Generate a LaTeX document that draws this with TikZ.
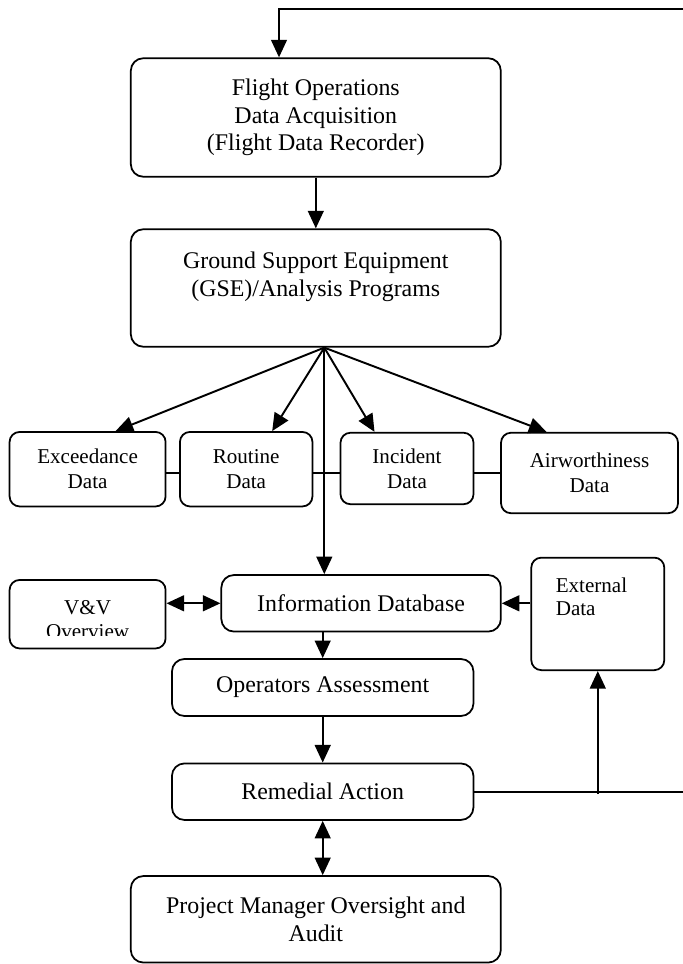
\documentclass[tikz,border=0pt]{standalone}
\usepackage{fontspec}
\setmainfont{Liberation Serif}
\usepackage{tikz}
\usetikzlibrary{arrows.meta}

\begin{document}
\begin{tikzpicture}[
recnode/.style={rectangle, rounded corners=0.25cm, draw, line width=1pt, fill=white, align=center, inner sep=2pt, font=\fontsize{13.6}{15.6}\selectfont},
smallnode/.style={recnode, rounded corners=0.2cm, font=\fontsize{12}{14.2}\selectfont},
textnode/.style={inner sep=0pt, font=\fontsize{12}{13.5}\selectfont},
link/.style={line width=1.1pt, -{Triangle[length=10pt,width=9pt]}},
dlink/.style={line width=1.1pt, {Triangle[length=10pt,width=9pt]}-{Triangle[length=10pt,width=9pt]}},
]
\useasboundingbox (0,0) rectangle (13.66,19.28);
%Nodes
\node[recnode, minimum width=7.40cm, minimum height=2.37cm](flight) at (6.316,16.93){Flight Operations\\Data Acquisition\\(Flight Data Recorder)};
\node[recnode, minimum width=7.40cm, minimum height=2.35cm](gse) at (6.316,13.52){Ground Support Equipment\\(GSE)/Analysis Programs\\\mbox{}};
\node[smallnode, minimum width=3.12cm, minimum height=1.49cm](exc) at (1.752,9.896){Exceedance\\Data};
\node[smallnode, minimum width=2.65cm, minimum height=1.49cm](rout) at (4.924,9.896){Routine\\Data};
\node[smallnode, minimum width=2.66cm, minimum height=1.43cm](inc) at (8.14,9.91){Incident\\Data};
\node[smallnode, minimum width=3.54cm, minimum height=1.61cm](air) at (11.79,9.82){Airworthiness\\Data};
\node[recnode, minimum width=5.59cm, minimum height=1.13cm](info) at (7.222,7.214){Information Database};
\node[smallnode, minimum width=3.12cm, minimum height=1.37cm](vv) at (1.752,6.996){};
\begin{scope}
\clip (vv.north west) rectangle ([yshift=0.27cm]vv.south east);
\node[textnode, align=center](vvtext) at ([yshift=-0.11cm]vv.center){V\&V\\Overview};
\end{scope}
\node[smallnode, minimum width=2.66cm, minimum height=2.25cm](ext) at (11.956,7.002){};
\node[textnode, anchor=north west, align=left](exttext) at ([xshift=0.5cm,yshift=-0.41cm]ext.north west){External\\Data};
\node[recnode, minimum width=6.03cm, minimum height=1.14cm](ops) at (6.454,5.53){Operators Assessment};
\node[recnode, minimum width=6.03cm, minimum height=1.13cm](rem) at (6.454,3.446){Remedial Action};
\node[recnode, minimum width=7.40cm, minimum height=1.73cm](pm) at (6.316,0.894){Project Manager Oversight and\\Audit};

\coordinate (fan) at ([xshift=0.17cm]gse.south);
\coordinate (fin) at ([xshift=-0.736cm]flight.north);
\coordinate (loop) at (13.7,19.1);

%Edges
\draw[line width=1pt] (exc.east |- air.west) -- (rout.west |- air.west);
\draw[line width=1pt] (rout.east |- air.west) -- (inc.west |- air.west);
\draw[line width=1pt] (inc.east |- air.west) -- (air.west);
\draw[link] (flight.south) -- (gse.north);
\draw[link] (fan) -- ([xshift=0.56cm]exc.north);
\draw[link] (fan) -- ([xshift=0.52cm]rout.north);
\draw[link] (fan) -- ([xshift=-0.65cm]inc.north);
\draw[link] (fan) -- ([xshift=-0.86cm]air.north);
\draw[link] (fan) -- (fan |- info.north);
\draw[dlink] (vv.east |- info.west) -- (info.west);
\draw[link] (ext.west |- info.east) -- (info.east);
\draw[link] (ops.north |- info.south) -- (ops.north);
\draw[link] (ops.south) -- (rem.north);
\draw[dlink] (rem.south) -- (rem.south |- pm.north);
\draw[link] (rem.east) -- (rem.east -| loop) -- (loop) -- (loop -| fin) -- (fin);
\draw[link] ([yshift=-0.05cm]rem.east -| ext.south) -- (ext.south);
\end{tikzpicture}
\end{document}
